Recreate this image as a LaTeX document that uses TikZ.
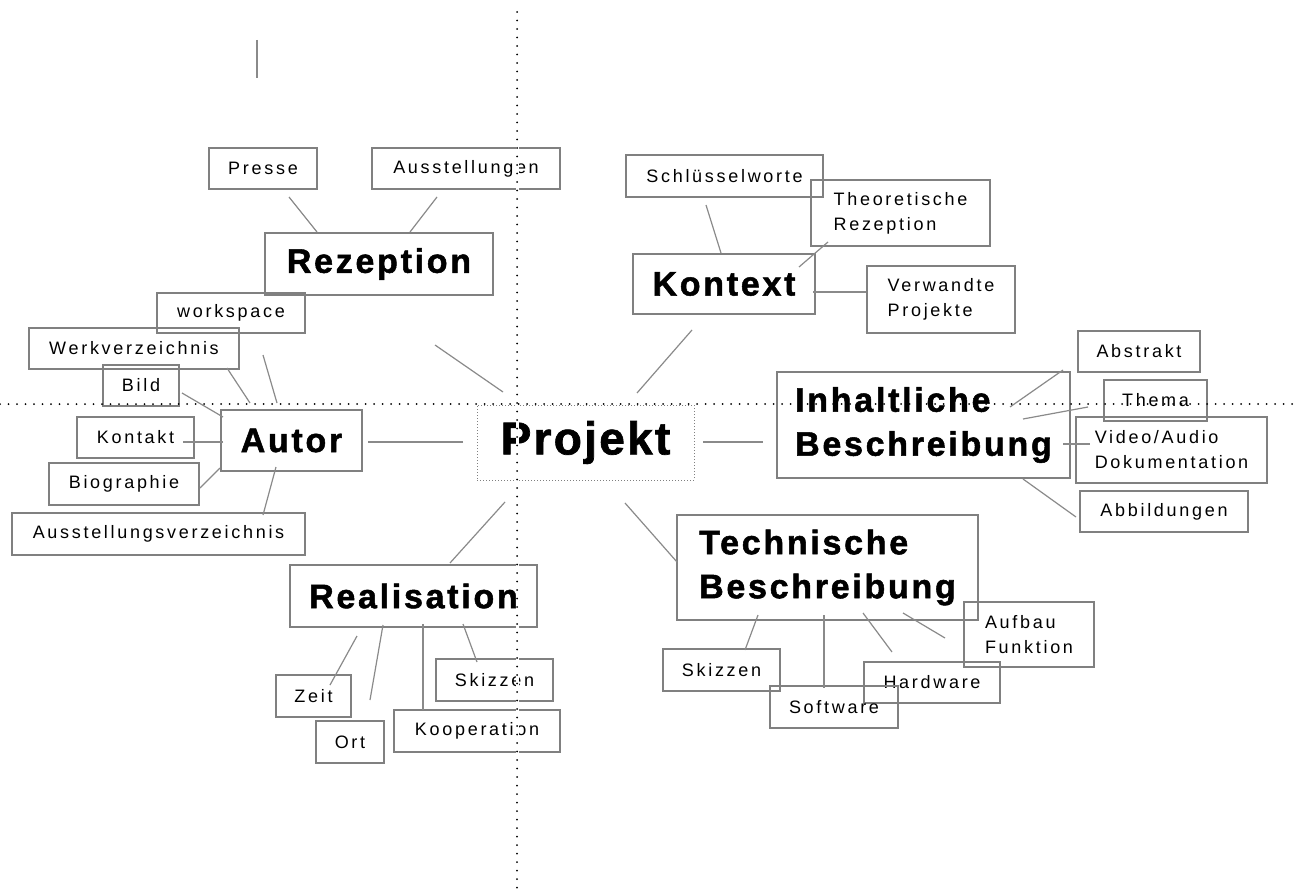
\documentclass[tikz,border=0pt]{standalone}
\usepackage{fontspec}
\setmainfont{Liberation Sans}
\newfontfamily\leaffont[LetterSpace=15]{Liberation Sans}
\newfontfamily\topicfont[LetterSpace=8, FakeBold=1.5]{Liberation Sans Bold}
\newfontfamily\hubfont[LetterSpace=5, FakeBold=1.5]{Liberation Sans Bold}
\definecolor{boxgray}{RGB}{128,128,128}
\definecolor{linkgray}{RGB}{138,138,138}
\tikzset{
  leafbox/.style 2 args={draw=boxgray, line width=1.2pt, inner sep=0pt, align=left,
    minimum width=#1pt, minimum height=#2pt, font=\leaffont\fontsize{18}{25}\selectfont},
  mainbox/.style 2 args={draw=boxgray, line width=1.2pt, inner sep=0pt, align=left,
    minimum width=#1pt, minimum height=#2pt, font=\topicfont\fontsize{34}{44}\selectfont},
  link/.style={draw=linkgray, line width=1.2pt},
  axis/.style={black, line width=2pt, line cap=round, dash pattern=on 0pt off 8.5pt}
}
\begin{document}
\begin{tikzpicture}[x=1pt, y=-1pt]
\useasboundingbox (0,0) rectangle (1297,893);
\node[draw=boxgray, line width=1pt, dash pattern=on 1pt off 2pt, inner sep=0pt,
  minimum width=217pt, minimum height=75pt, font=\hubfont\fontsize{46}{50}\selectfont] (projekt) at (585.5,442.5) {Projekt};
\node[mainbox={228}{62}] (rezeption) at (379,264) {Rezeption};
\node[leafbox={108}{41}] (presse) at (263,168.5) {Presse};
\node[leafbox={188}{41}] (ausstellungen) at (466,168.5) {Ausstellungen};
\node[mainbox={141}{61}] (autor) at (291.5,440.5) {Autor};
\node[leafbox={148}{40}] (workspace) at (231,313) {workspace};
\node[leafbox={210}{41}] (werkverz) at (134,348.5) {Werkverzeichnis};
\node[leafbox={76}{41}] (bild) at (141,385.5) {Bild};
\node[leafbox={117}{41}] (kontakt) at (135.5,437.5) {Kontakt};
\node[leafbox={150}{42}] (biographie) at (124,484) {Biographie};
\node[leafbox={293}{42}] (ausstverz) at (158.5,534) {Ausstellungsverzeichnis};
\node[mainbox={182}{60}] (kontext) at (724,284) {Kontext};
\node[leafbox={197}{42}] (schluessel) at (724.5,176) {Schlüsselworte};
\node[leafbox={179}{66}] (theorie) at (900.5,213) {Theoretische\\Rezeption};
\node[leafbox={148}{67}] (verwandte) at (941,299.5) {Verwandte\\Projekte};
\node[mainbox={293}{106}] (inhalt) at (923.5,425) {Inhaltliche\\Beschreibung};
\node[leafbox={122}{41}] (abstrakt) at (1139,351.5) {Abstrakt};
\node[leafbox={103}{41}] (thema) at (1155.5,400.5) {Thema};
\node[leafbox={191}{66}] (video) at (1171.5,450) {Video/Audio\\Dokumentation};
\node[leafbox={168}{41}] (abbildungen) at (1164,511.5) {Abbildungen};
\node[mainbox={301}{105}] (technik) at (827.5,567.5) {Technische\\Beschreibung};
\node[leafbox={130}{65}] (aufbau) at (1029,634.5) {Aufbau\\Funktion};
\node[leafbox={117}{42}] (skizzenT) at (721.5,670) {Skizzen};
\node[leafbox={136}{41}] (hardware) at (932,682.5) {Hardware};
\node[leafbox={128}{42}] (software) at (834,707) {Software};
\node[mainbox={247}{62}] (realisation) at (413.5,596) {Realisation};
\node[leafbox={75}{42}] (zeit) at (313.5,696) {Zeit};
\node[leafbox={68}{42}] (ort) at (350,742) {Ort};
\node[leafbox={117}{42}] (skizzenR) at (494.5,680) {Skizzen};
\node[leafbox={166}{42}] (kooperation) at (477,731) {Kooperation};
\draw[link] ([shift={(-82.5,-50.5)}]projekt.center) -- ([shift={(56,81)}]rezeption.center);
\draw[link] ([shift={(51.5,-49.5)}]projekt.center) -- ([shift={(-32,46)}]kontext.center);
\draw[link] ([shift={(-122.5,-0.5)}]projekt.center) -- ([shift={(76.5,1.5)}]autor.center);
\draw[link] ([shift={(117.5,-0.5)}]projekt.center) -- ([shift={(-160.5,17)}]inhalt.center);
\draw[link] ([shift={(-80.5,59.5)}]projekt.center) -- ([shift={(36.5,-33)}]realisation.center);
\draw[link] ([shift={(39.5,60.5)}]projekt.center) -- ([shift={(-150.5,-5.5)}]technik.center);
\draw[link] ([shift={(-62,-32)}]rezeption.center) -- ([shift={(26,28.5)}]presse.center);
\draw[link] ([shift={(31,-32)}]rezeption.center) -- ([shift={(-29,28.5)}]ausstellungen.center);
\draw[link] ([shift={(-14.5,-37.5)}]autor.center) -- ([shift={(32,42)}]workspace.center);
\draw[link] ([shift={(-41.5,-37.5)}]autor.center) -- ([shift={(93,19.5)}]werkverz.center);
\draw[link] ([shift={(-68.5,-23.5)}]autor.center) -- ([shift={(41,7.5)}]bild.center);
\draw[link] ([shift={(-68.5,1.5)}]autor.center) -- ([shift={(47.5,4.5)}]kontakt.center);
\draw[link] ([shift={(-71.5,27.5)}]autor.center) -- ([shift={(76,4)}]biographie.center);
\draw[link] ([shift={(-15.5,26.5)}]autor.center) -- ([shift={(104.5,-19)}]ausstverz.center);
\draw[link] ([shift={(-3,-31)}]kontext.center) -- ([shift={(-18.5,29)}]schluessel.center);
\draw[link] ([shift={(75,-17)}]kontext.center) -- ([shift={(-72.5,29)}]theorie.center);
\draw[link] ([shift={(89,8)}]kontext.center) -- ([shift={(-75,-7.5)}]verwandte.center);
\draw[link] ([shift={(86.5,-18)}]inhalt.center) -- ([shift={(-76,18.5)}]abstrakt.center);
\draw[link] ([shift={(99.5,-6)}]inhalt.center) -- ([shift={(-67.5,6.5)}]thema.center);
\draw[link] ([shift={(139.5,19)}]inhalt.center) -- ([shift={(-81.5,-6)}]video.center);
\draw[link] ([shift={(99.5,54)}]inhalt.center) -- ([shift={(-88,5.5)}]abbildungen.center);
\draw[link] ([shift={(-69.5,47.5)}]technik.center) -- ([shift={(23.5,-20)}]skizzenT.center);
\draw[link] ([shift={(-3.5,47.5)}]technik.center) -- ([shift={(-10,-19)}]software.center);
\draw[link] ([shift={(35.5,45.5)}]technik.center) -- ([shift={(-40,-30.5)}]hardware.center);
\draw[link] ([shift={(75.5,45.5)}]technik.center) -- ([shift={(-84,3.5)}]aufbau.center);
\draw[link] ([shift={(-56.5,40)}]realisation.center) -- ([shift={(16.5,-11)}]zeit.center);
\draw[link] ([shift={(-30.5,29)}]realisation.center) -- ([shift={(20,-42)}]ort.center);
\draw[link] ([shift={(9.5,28)}]realisation.center) -- ([shift={(-54,-21)}]kooperation.center);
\draw[link] ([shift={(49.5,28)}]realisation.center) -- ([shift={(-17.5,-18)}]skizzenR.center);
\draw[link] (257,40) -- (257,78);
\draw[white, line width=3pt] (517,12) -- (517,893);
\draw[axis] (517,12) -- (517,893);
\draw[axis] (0,404) -- (1297,404);
\end{tikzpicture}
\end{document}
